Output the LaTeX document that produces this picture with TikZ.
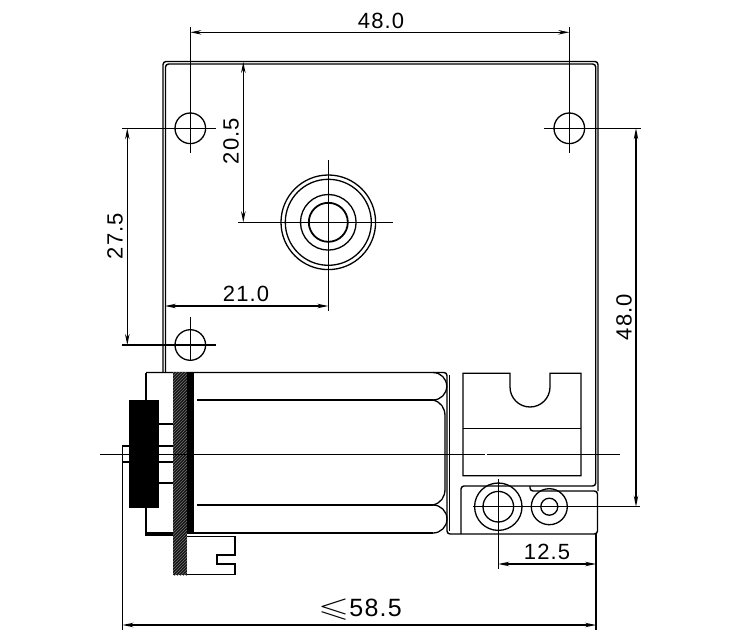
\documentclass[tikz,border=0pt]{standalone}
\usepackage{amssymb}
\usepackage{fontspec}
\setmainfont[LetterSpace=5]{Liberation Sans}
\usetikzlibrary{arrows.meta, patterns}

\begin{document}
\begin{tikzpicture}[
            x = 1pt, y = -1pt,
            > = {Stealth[length=11pt,width=4.5pt]}, % arrow head style
            line width = 1.3pt
        ]

        \tikzstyle{outline}=[line width = 1.4pt, rounded corners = 3pt]
        \tikzstyle{center line}=[line width = 1.3pt]
        \tikzstyle{dim line}=[line width = 1.2pt, <->]
        \tikzstyle{dim label}=[inner sep = 0pt, font = \fontsize{22}{22}\selectfont]

        \useasboundingbox (0,0) rectangle (750,642);

        % hole and shaft centres
        \coordinate (holeA) at (190.3,128.3);
        \coordinate (holeB) at (569.3,128.3);
        \coordinate (holeC) at (190.3,345);
        \coordinate (hub) at (328.3,222.3);
        \coordinate (portA) at (498.3,506.7);
        \coordinate (portB) at (549.3,506.7);

        % plate
        \draw[outline] (163,372) -- (163,61.5) -- (598,61.5) -- (598,491);
        \draw[outline] (165.5,372) -- (165.5,64) -- (595.7,64) -- (595.7,486) -- (461,486) -- (461,534);
        \draw[outline] (146,372.5) -- (447,372.5) -- (447,534) -- (597.5,534) -- (597.5,491) -- (530,491) -- (530,486);
        \draw (449.5,375) -- (449.5,531);

        % motor body
        \draw (197,400) -- (433,400);
        \draw (197,505) -- (433,505);
        \draw (146,533) -- (433,533);
        \draw (433,372.5) arc[start angle=-90, end angle=90, radius=13.75];
        \draw (433,400) .. controls (441,402) and (445,408) .. (445,416) -- (445,489) .. controls (445,497) and (441,503) .. (433,505);
        \draw (433,505) arc[start angle=-90, end angle=90, radius=14];

        % flange and knob
        \draw (146,372.5) -- (146,400);
        \draw (146,508) -- (146,535) -- (173,535);
        \fill[preaction={fill=black!92}, pattern=north east lines, pattern color=black!55] (173,372) rectangle (187,575);
        \fill[black] (187,372) rectangle (194,533);
        \fill[black] (129,400) rectangle (159,508);
        \draw (159,424) -- (173,424);
        \draw (159,446) -- (173,446);
        \draw (159,462) -- (173,462);
        \draw (159,483) -- (173,483);
        \draw (129,446) -- (122.5,446) -- (122.5,462) -- (129,462);
        \draw (187,536.7) -- (235,536.7) -- (235,555) -- (217,555) -- (217,564) -- (235,564) -- (235,574.5) -- (187,574.5);

        % terminal block
        \draw (510,373.3) -- (463,373.3) -- (463,475.7) -- (581,475.7) -- (581,373.3) -- (550,373.3) -- (550,387)
            arc[start angle=0, end angle=180, radius=20] -- cycle;
        \draw (463,428.3) -- (581,428.3);

        % circles
        \foreach \pos in {holeA, holeB, holeC}
            \draw (\pos) circle (15.3);
        \draw (hub) circle (47.3);
        \draw (hub) circle (43);
        \draw (hub) circle (27.8);
        \draw[line width=1.8pt] (hub) circle (19.5);
        \draw (portA) circle (23.7);
        \draw (portA) circle (15.3);
        \draw (portB) circle (18);
        \draw (portB) circle (8.5);

        % centre lines
        \draw[center line] ([xshift=-68.3pt]holeA) -- ([xshift=25.4pt]holeA);
        \draw[center line] ([xshift=-25.3pt]holeB) -- ([xshift=71.4pt]holeB);
        \draw[center line] ([xshift=-68.3pt]holeC) -- ([xshift=25.4pt]holeC);
        \draw[center line] ([yshift=101.3pt]holeA) -- ([yshift=-24.4pt]holeA);
        \draw[center line] ([yshift=101.3pt]holeB) -- ([yshift=-24.4pt]holeB);
        \draw[center line] ([yshift=28pt]holeC) -- ([yshift=-15.7pt]holeC);
        \draw[center line] ([xshift=-90.3pt]hub) -- ([xshift=64.4pt]hub);
        \draw[center line] ([yshift=62.3pt]hub) -- ([yshift=-88.7pt]hub);
        \draw[center line] ([xshift=-25.3pt]portA) -- ([xshift=141.7pt]portA);
        \draw[center line] ([yshift=27.7pt]portA) -- ([yshift=-62.3pt]portA);
        \draw[center line] (100,454.3) -- (484.5,454.3);
        \draw[center line] (487,454.3) -- (620,454.3);

        % extension lines
        \coordinate (leftEnd) at (122.5,630);
        \coordinate (rightEnd) at (596,630);
        \draw (122.5,462) -- (leftEnd);
        \draw (596,534) -- (rightEnd);

        % dimensions
        \draw[dim line] (190.3,32.3) -- (569.3,32.3);
        \draw[dim line] (636,128.3) -- (636,506.7);
        \draw[dim line] (127.3,128.3) -- (127.3,345);
        \draw[dim line] (243.3,62) -- (243.3,222.3);
        \draw[dim line] (165,306) -- (328.3,306);
        \draw[dim line] (498.3,564) -- (596,564);
        \draw[dim line] (122.5,625) -- (596,625);

        \node[dim label] (top) at (381,21) {48.0};
        \node[dim label, rotate=90] (right) at (624,317) {48.0};
        \node[dim label, rotate=90] (left) at (115,236) {27.5};
        \node[dim label, rotate=90] (upper) at (231,141) {20.5};
        \node[dim label] (hubdim) at (246,294) {21.0};
        \node[dim label] (port) at (547,552) {12.5};
        \node[dim label, font=\fontsize{25}{25}\selectfont] (total) at (360,610) {\scalebox{1.6}[1.1]{$\leqslant$}58.5};

  \end{tikzpicture}
\end{document}
